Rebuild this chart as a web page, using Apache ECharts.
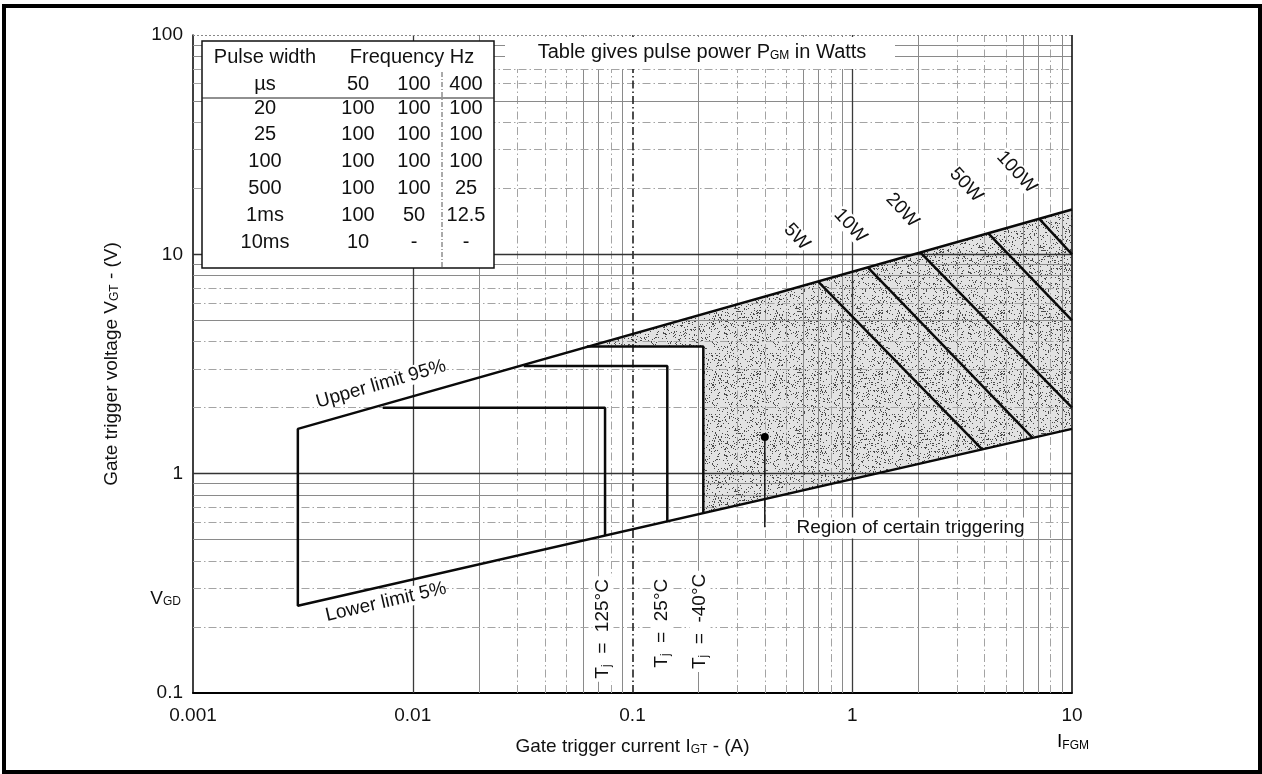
<!DOCTYPE html>
<html>
<head>
<meta charset="utf-8">
<script src="https://cdn.jsdelivr.net/npm/echarts@6.0.0/dist/echarts.min.js"></script>
<style>
html, body { margin: 0; padding: 0; background: #fff; }
#chart { width: 1262px; height: 774px; }
</style>
</head>
<body>
<div id="chart"></div>
<script>
// gate trigger characteristics, log-log
const FONT = 'Liberation Sans, Arial, Helvetica, sans-serif';
const INK = '#111';

// limit lines (I in A, V in V)
const limitOutline = [[10, 16], [0.003, 1.6], [0.003, 0.25], [10, 1.6]];
const tj125 = [[0.0073, 2.0], [0.075, 2.0], [0.075, 0.52]];
const tj25 = [[0.032, 3.1], [0.144, 3.1], [0.144, 0.6]];
const tjMinus40 = [[0.062, 3.8], [0.21, 3.8], [0.21, 0.66]];
const certainRegion = [[0.062, 3.8], [0.21, 3.8], [0.21, 0.66], [10, 1.6], [10, 16]];

// pulse power lines
const powerNames = ['5W', '10W', '20W', '50W', '100W'];
const powerLines = [
    [[0.70, 7.5], [3.9, 1.29]],
    [[1.18, 8.7], [6.6, 1.46]],
    [[2.04, 10.2], [10, 2.0]],
    [[4.15, 12.5], [10, 5.0]],
    [[7.1, 14.5], [10, 10.0]],
];
const powerLabelPos = [[0.56, 12.0], [0.98, 13.5], [1.69, 15.9], [3.3, 20.7], [5.6, 23.7]];

// annotations
const tjNames = ['125°C', '25°C', '-40°C'];
const tjLabelPos = [[0.0734, 0.196], [0.136, 0.208], [0.203, 0.212]];
const regionDot = [0.4, 1.47];
const regionLeader = [[0.4, 1.47], [0.4, 0.57]];
const regionTextPos = [0.54, 0.565];
const vgd = 0.27;

// table
const tableRows = ['20', '25', '100', '500', '1ms', '10ms'];
const tableFreqs = ['50', '100', '400'];
const tableF50 = ['100', '100', '100', '100', '100', '10'];
const tableF100 = ['100', '100', '100', '100', '50', '-'];
const tableF400 = ['100', '100', '100', '25', '12.5', '-'];

// grid
const xDecades = [0.001, 0.01, 0.1, 1];
const yDecades = [0.1, 1, 10];
const minorSteps = [2, 3, 4, 5, 6, 7, 8, 9];
const xMinorSolid = [2, 6, 7, 9];
const yMinorSolid = [5, 8, 9];

const DASHDOT = [8, 3, 1.5, 3];

function fmt(v) {
    return String(+Number(v).toPrecision(6));
}

// printed stipple texture for the triggering region
function stipple() {
    const n = 61;
    const c = document.createElement('canvas');
    c.width = n; c.height = n;
    const ctx = c.getContext('2d');
    ctx.fillStyle = '#e2e2e2';
    ctx.fillRect(0, 0, n, n);
    ctx.fillStyle = '#4a4a4a';
    for (let i = 0; i < n; i++) {
        for (let j = 0; j < n; j++) {
            const h = (((i * 73856093) ^ (j * 19349663)) >>> 0) % 9;
            if (h === 0) ctx.fillRect(i, j, 1, 1);
        }
    }
    return c;
}

function gridLines() {
    const out = [];
    xDecades.forEach(function (d) {
        minorSteps.forEach(function (m) {
            const solid = xMinorSolid.indexOf(m) >= 0;
            out.push({ xAxis: d * m, lineStyle: { color: solid ? '#8a8a8a' : '#a4a4a4', width: 1, type: solid ? 'solid' : DASHDOT } });
        });
    });
    yDecades.forEach(function (d) {
        minorSteps.forEach(function (m) {
            const solid = yMinorSolid.indexOf(m) >= 0;
            out.push({ yAxis: d * m, lineStyle: { color: solid ? '#8a8a8a' : '#a4a4a4', width: 1, type: solid ? 'solid' : DASHDOT } });
        });
    });
    out.push({ xAxis: 0.01, lineStyle: { color: '#3a3a3a', width: 1.3, type: 'solid' } });
    out.push({ xAxis: 0.1, lineStyle: { color: '#222', width: 1.6, type: DASHDOT } });
    out.push({ xAxis: 1, lineStyle: { color: '#3a3a3a', width: 1.3, type: 'solid' } });
    out.push({ yAxis: 1, lineStyle: { color: '#333', width: 1.3, type: 'solid' } });
    out.push({ yAxis: 10, lineStyle: { color: '#333', width: 1.3, type: 'solid' } });
    out.push({ yAxis: 100, lineStyle: { color: '#888', width: 1, type: [2, 2] } });
    out.push({ xAxis: 10, lineStyle: { color: '#111', width: 1.6, type: 'solid' } });
    return out;
}

function line(data, width) {
    return {
        type: 'line', data: data, symbol: 'none', silent: true, z: 5,
        lineStyle: { color: '#0a0a0a', width: width || 2.5 },
    };
}

const subRich = {
    a: { fontSize: 19, color: INK, fontFamily: FONT },
    s: { fontSize: 12, color: INK, fontFamily: FONT, verticalAlign: 'bottom', lineHeight: 8 },
};

function labelSeries(points, texts, extra) {
    return {
        type: 'scatter', silent: true, z: 8,
        symbolSize: 0, itemStyle: { color: '#000', opacity: 1 },
        data: points,
        label: Object.assign({
            show: true, position: 'inside', color: INK, opacity: 1, fontFamily: FONT, fontSize: 19,
            backgroundColor: '#fff', padding: [1, 3],
            formatter: function (p) { return texts[p.dataIndex]; },
            rich: subRich,
        }, extra),
    };
}

const texture = stipple();

const series = [
    {
        type: 'custom', silent: true, z: 1,
        data: certainRegion,
        renderItem: function (params, api) {
            if (params.dataIndex !== 0) return;
            const pts = certainRegion.map(function (p) { return api.coord(p); });
            return { type: 'polygon', shape: { points: pts }, style: { fill: { image: texture, repeat: 'repeat' } } };
        },
    },
    {
        type: 'line', data: [], symbol: 'none', silent: true, z: 2,
        markLine: { silent: true, symbol: ['none', 'none'], label: { show: false }, animation: false, data: gridLines() },
    },
    line(limitOutline),
    line(tj125),
    line(tj25),
    line(tjMinus40),
];
powerLines.forEach(function (pl) { series.push(line(pl)); });
series.push(line(regionLeader, 1.4));
series.push({
    type: 'scatter', silent: true, z: 6, data: [regionDot], symbolSize: 8, itemStyle: { color: '#000', opacity: 1 },
});
series.push(labelSeries(powerLabelPos, powerNames, { rotate: -47, padding: 0 }));
series.push(labelSeries([[0.00717, 2.56]], ['Upper limit 95%'], { rotate: 16, padding: 0 }));
series.push(labelSeries([[0.00755, 0.26]], ['Lower limit 5%'], { rotate: 13, padding: 0 }));
series.push(labelSeries(tjLabelPos, tjNames.map(function (t) { return '{a|T}{s|j}{a|  =  ' + t + '}'; }), { rotate: 90 }));
series.push(labelSeries([regionTextPos], ['Region of certain triggering'], { position: 'right', distance: 0 }));
series.push(labelSeries([[0.001, vgd]], ['{a|V}{s|GD}'], { position: 'left', distance: 9, backgroundColor: 'transparent' }));

// table drawn as graphic
const TX = 202, TY = 41, TW = 292, TH = 227;
const colX = [265, 358, 414, 466];
const rowY0 = 108, rowStep = 26.9;

function txt(x, y, s, align) {
    return {
        type: 'text', x: x, y: y, z: 100,
        style: { text: s, fill: INK, font: '20px ' + FONT, textAlign: align || 'center', textVerticalAlign: 'middle', align: align || 'center', verticalAlign: 'middle' },
    };
}

const graphic = [
    { type: 'rect', z: 99, shape: { x: 505, y: 37, width: 390, height: 32 }, style: { fill: '#fff' } },
    { type: 'rect', z: 99, shape: { x: TX, y: TY, width: TW, height: TH }, style: { fill: '#fff', stroke: '#111', lineWidth: 1.5 } },
    { type: 'line', z: 100, shape: { x1: TX, y1: 98, x2: TX + TW, y2: 98 }, style: { stroke: '#222', lineWidth: 1.2 } },
    { type: 'line', z: 100, shape: { x1: 442, y1: 72, x2: 442, y2: TY + TH }, style: { stroke: '#555', lineWidth: 1, lineDash: [5, 2, 1, 2] } },
    txt(colX[0], 57, 'Pulse width'),
    txt(412, 57, 'Frequency Hz'),
    txt(colX[0], 84, 'µs'),
];
tableFreqs.forEach(function (f, i) { graphic.push(txt(colX[i + 1], 84, f)); });
tableRows.forEach(function (r, i) {
    const y = rowY0 + i * rowStep;
    graphic.push(txt(colX[0], y, r));
    graphic.push(txt(colX[1], y, tableF50[i]));
    graphic.push(txt(colX[2], y, tableF100[i]));
    graphic.push(txt(colX[3], y, tableF400[i]));
});
graphic.push({
    type: 'text', x: 702, y: 52, z: 100,
    style: {
        text: '{a|Table gives pulse power P}{s|GM}{a| in Watts}',
        rich: { a: { fontSize: 20, fill: INK, color: INK, fontFamily: FONT }, s: subRich.s },
        textAlign: 'center', textVerticalAlign: 'middle', align: 'center', verticalAlign: 'middle',
    },
});
graphic.push({
    type: 'text', x: 1073, y: 742, z: 100,
    style: {
        text: '{a|I}{s|FGM}', rich: subRich,
        textAlign: 'center', textVerticalAlign: 'middle', align: 'center', verticalAlign: 'middle',
    },
});
// outer frame
graphic.push({ type: 'rect', z: 100, shape: { x: 4, y: 6, width: 1256, height: 766 }, style: { fill: 'none', stroke: '#000', lineWidth: 4 } });

const option = {
    animation: false,
    backgroundColor: '#fff',
    textStyle: { fontFamily: FONT },
    grid: { left: 193, right: 190, top: 35, bottom: 81 },
    xAxis: {
        type: 'log', logBase: 10, min: 0.001, max: 10,
        name: '{a|Gate trigger current I}{s|GT}{a| - (A)}',
        nameLocation: 'middle', nameGap: 44,
        nameTextStyle: { rich: subRich },
        axisLine: { show: true, onZero: false, lineStyle: { color: '#000', width: 2 } },
        axisTick: { show: false },
        axisLabel: { fontSize: 19, color: INK, margin: 13, formatter: fmt },
        splitLine: { show: false },
    },
    yAxis: {
        type: 'log', logBase: 10, min: 0.1, max: 100,
        name: '{a|Gate trigger voltage V}{s|GT}{a| - (V)}',
        nameLocation: 'middle', nameGap: 72, nameRotate: 90,
        nameTextStyle: { rich: subRich },
        axisLine: { show: true, onZero: false, lineStyle: { color: '#000', width: 1.5 } },
        axisTick: { show: false },
        axisLabel: { fontSize: 19, color: INK, margin: 10, formatter: fmt },
        splitLine: { show: false },
    },
    series: series,
    graphic: graphic,
};

const chart = echarts.init(document.getElementById('chart'));
chart.setOption(option);
</script>
</body>
</html>
